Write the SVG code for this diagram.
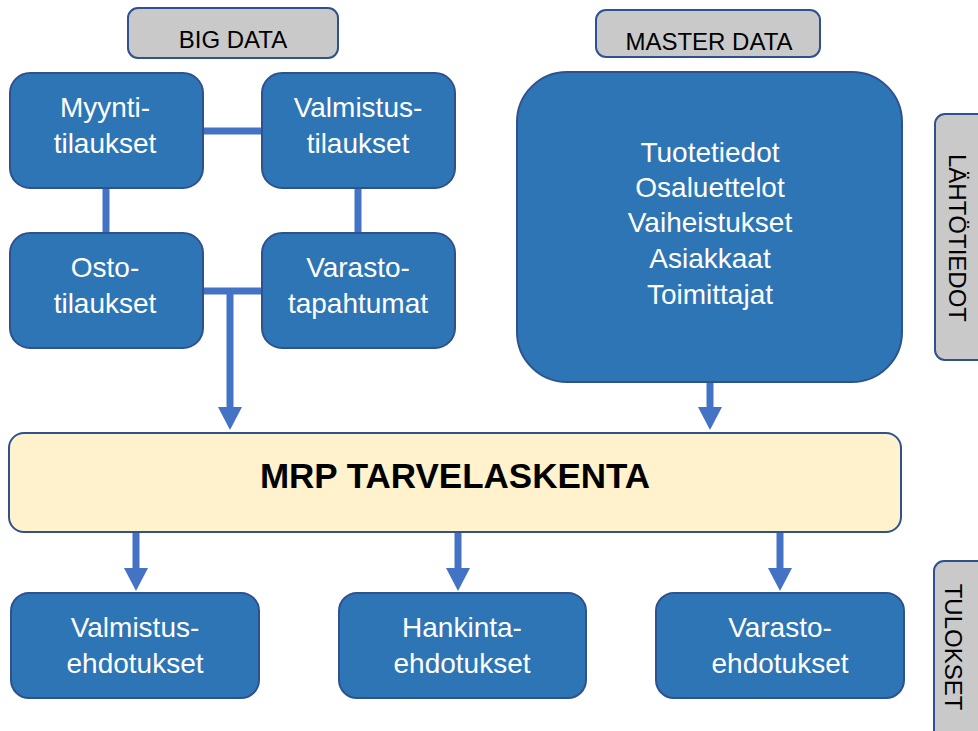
<svg xmlns="http://www.w3.org/2000/svg" width="978" height="731" viewBox="0 0 978 731">
<defs>
<marker id="ah" markerUnits="userSpaceOnUse" markerWidth="24" markerHeight="24" refX="0" refY="12" orient="auto">
<path d="M0,0 L23,12 L0,24 z" fill="#4472C4"/>
</marker>
<style>
.blue{fill:#2E75B6;stroke:#2F528F;stroke-width:2}
.gray{fill:#C9C9C9;stroke:#2F528F;stroke-width:2}
.yel{fill:#FFF2CC;stroke:#2F528F;stroke-width:2}
.wt{font-family:"Liberation Sans",Arial,sans-serif;font-size:28px;fill:#FFFFFF;text-anchor:middle}
.bt{font-family:"Liberation Sans",Arial,sans-serif;font-size:24px;fill:#000000;text-anchor:middle}
.con{stroke:#4472C4;stroke-width:7;fill:none}
.arr{stroke:#4472C4;stroke-width:7;fill:none;marker-end:url(#ah)}
</style>
</defs>
<g id="connectors">
<line class="con" x1="203" y1="131" x2="262" y2="131"/>
<line class="con" x1="106" y1="188" x2="106" y2="233"/>
<line class="con" x1="358" y1="188" x2="358" y2="233"/>
<line class="con" x1="203" y1="291" x2="262" y2="291"/>
<line class="arr" x1="230" y1="288" x2="230" y2="407"/>
<line class="arr" x1="710" y1="382" x2="710" y2="407"/>
<line class="arr" x1="136" y1="532" x2="136" y2="568"/>
<line class="arr" x1="458" y1="532" x2="458" y2="568"/>
<line class="arr" x1="780" y1="532" x2="780" y2="568"/>
</g>
<g id="bigdata">
<rect class="gray" x="128" y="8" width="210" height="50" rx="10"/>
<text class="bt" x="233" y="48">BIG DATA</text>
</g>
<g id="masterdata">
<rect class="gray" x="596" y="10" width="224" height="47" rx="10"/>
<text class="bt" x="709" y="50">MASTER DATA</text>
</g>
<g id="myynti">
<rect class="blue" x="10" y="73" width="193" height="115" rx="20"/>
<text class="wt" x="105" y="117">Myynti-</text>
<text class="wt" x="105" y="153">tilaukset</text>
</g>
<g id="valmistus">
<rect class="blue" x="262" y="73" width="193" height="115" rx="20"/>
<text class="wt" x="358" y="117">Valmistus-</text>
<text class="wt" x="358" y="153">tilaukset</text>
</g>
<g id="osto">
<rect class="blue" x="10" y="233" width="193" height="115" rx="20"/>
<text class="wt" x="105" y="277">Osto-</text>
<text class="wt" x="105" y="313">tilaukset</text>
</g>
<g id="varasto">
<rect class="blue" x="262" y="233" width="193" height="115" rx="20"/>
<text class="wt" x="358" y="277">Varasto-</text>
<text class="wt" x="358" y="313">tapahtumat</text>
</g>
<g id="master">
<rect class="blue" x="517" y="72" width="385" height="310" rx="50"/>
<text class="wt" x="710" y="162">Tuotetiedot</text>
<text class="wt" x="710" y="197">Osaluettelot</text>
<text class="wt" x="710" y="232">Vaiheistukset</text>
<text class="wt" x="710" y="268">Asiakkaat</text>
<text class="wt" x="710" y="304">Toimittajat</text>
</g>
<g id="lahtotiedot">
<rect class="gray" x="935" y="114" width="60" height="246" rx="10"/>
<text class="bt" transform="translate(949,238) rotate(90)" x="0" y="0">LÄHTÖTIEDOT</text>
</g>
<g id="mrp">
<rect class="yel" x="9" y="433" width="892" height="99" rx="15"/>
<text x="455" y="488" font-family="'Liberation Sans',Arial,sans-serif" font-size="35" font-weight="bold" fill="#000" text-anchor="middle">MRP TARVELASKENTA</text>
</g>
<g id="valmistusehd">
<rect class="blue" x="11" y="593" width="248" height="105" rx="18"/>
<text class="wt" x="135" y="637">Valmistus-</text>
<text class="wt" x="135" y="673">ehdotukset</text>
</g>
<g id="hankinta">
<rect class="blue" x="339" y="593" width="247" height="105" rx="18"/>
<text class="wt" x="462" y="637">Hankinta-</text>
<text class="wt" x="462" y="673">ehdotukset</text>
</g>
<g id="varastoehd">
<rect class="blue" x="656" y="593" width="248" height="105" rx="18"/>
<text class="wt" x="780" y="637">Varasto-</text>
<text class="wt" x="780" y="673">ehdotukset</text>
</g>
<g id="tulokset">
<rect class="gray" x="934" y="561" width="60" height="190" rx="10"/>
<text class="bt" transform="translate(945,647) rotate(90)" x="0" y="0">TULOKSET</text>
</g>
</svg>
